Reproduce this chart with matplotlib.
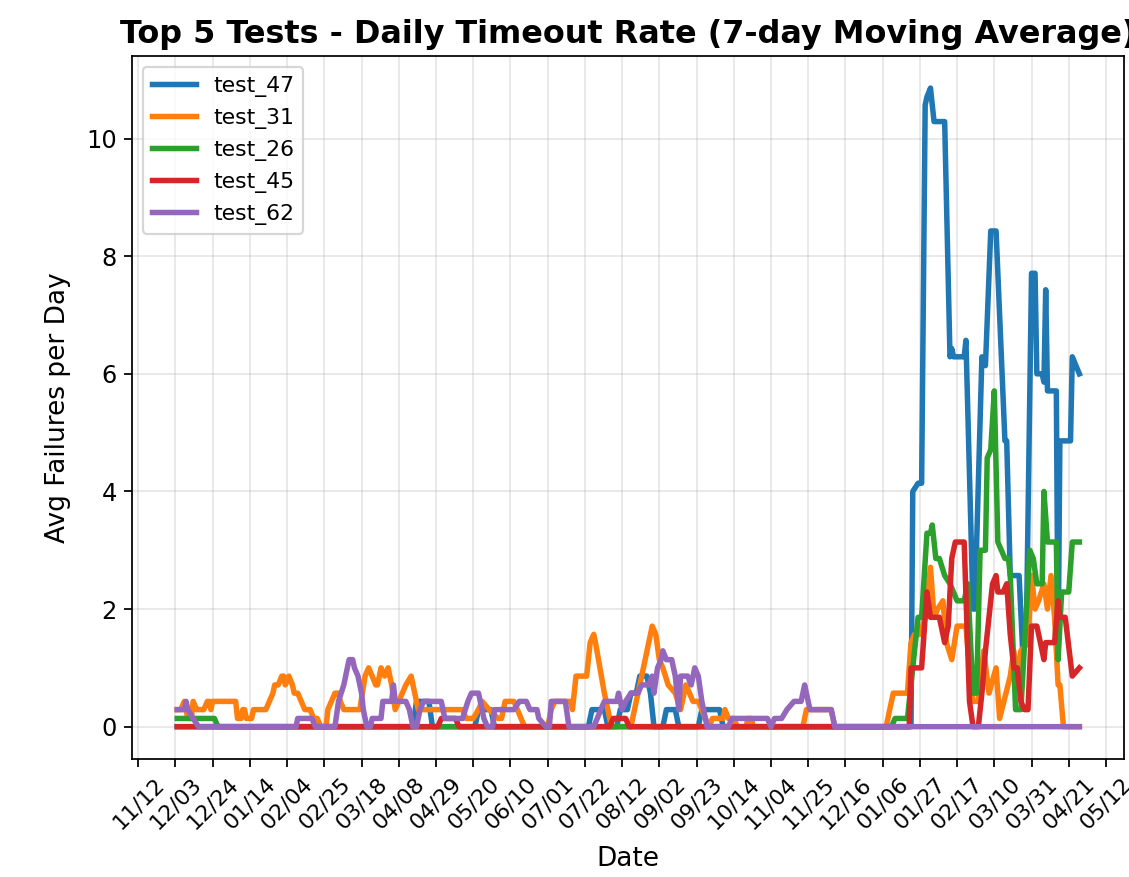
import numpy as np
import pandas as pd
import matplotlib
matplotlib.use('Agg')
import matplotlib.pyplot as plt
import matplotlib.dates as mdates
from matplotlib.ticker import FixedLocator

# day offsets are counted from this date, values are 7-day moving averages
base = pd.Timestamp('2021-11-12')

t47_days = [22, 155, 157, 164, 166, 190, 192, 199, 201, 254, 256, 263, 265, 270, 272, 276, 278, 281,
            283, 287, 289, 291, 296, 298, 303, 305, 316, 318, 328, 330, 436, 437, 440, 442, 444, 445,
            447, 449, 455, 458, 459, 460, 466, 467, 471, 472, 476, 478, 481, 484, 489, 490, 492,
            497, 499, 501, 504, 506, 507, 510, 511, 512, 513, 518, 519, 520, 526, 527, 531]
t47_vals = [0, 0, 0.43, 0.43, 0, 0, 0.29, 0.29, 0, 0, 0.29, 0.29, 0, 0, 0.29, 0.29, 0.57, 0.57,
            0.86, 0.86, 0.57, 0, 0, 0.29, 0.29, 0, 0, 0.29, 0.29, 0, 0, 4.0, 4.14, 4.14, 10.57, 10.71,
            10.86, 10.29, 10.29, 6.29, 6.43, 6.29, 6.29, 6.57, 2.0, 2.0, 6.29, 6.14, 8.43, 8.43, 4.86, 4.86, 2.57,
            2.57, 1.29, 1.43, 7.71, 7.71, 6.0, 6.0, 5.86, 7.43, 5.71, 5.71, 1.14, 4.86, 4.86, 6.29, 6.0]

t31_days = [22, 24, 26, 28, 30, 31, 33, 37, 39, 40, 41, 42, 55, 56, 58, 59, 60, 61, 64, 65, 72, 74,
            76, 77, 79, 81, 82, 83, 85, 87, 88, 90, 92, 94, 97, 99, 101, 103, 106, 107, 109, 111, 113,
            114, 116, 125, 128, 130, 132, 134, 135, 137, 139, 141, 143, 145, 147, 149, 151, 154, 156,
            158, 183, 185, 189, 192, 194, 198, 203, 205, 207, 212, 216, 218, 231, 233, 235, 244, 245,
            247, 253, 255, 257, 258, 263, 266, 267, 278, 280, 283, 286, 290, 292, 294, 296, 299, 303,
            306, 309, 311, 313, 316, 318, 320, 322, 324, 330, 331, 333, 336, 338, 343, 344, 346, 347,
            375, 377, 391, 393, 422, 424, 426, 434, 436, 438, 441, 444, 447, 449, 451, 454, 456, 459,
            462, 467, 469, 471, 474, 477, 480, 484, 486, 492, 494, 496, 498, 502, 504, 506, 508, 511,
            513, 515, 517, 519, 520, 522, 531]
t31_vals = [0.29, 0.29, 0.43, 0.14, 0.14, 0.43, 0.29, 0.29, 0.43, 0.43, 0.29, 0.43, 0.43, 0.14, 0.14, 0.29, 0.29, 0.14, 0.14, 0.29, 0.29, 0.43,
            0.57, 0.71, 0.71, 0.86, 0.86, 0.71, 0.86, 0.71, 0.57, 0.57, 0.43, 0.29, 0.29, 0.14, 0.14, 0, 0, 0.29, 0.43, 0.57, 0.57,
            0.43, 0.29, 0.29, 0.86, 1.0, 0.86, 0.71, 0.71, 1.0, 0.86, 1.0, 0.71, 0.29, 0.43, 0.57, 0.71, 0.86, 0.57,
            0.29, 0.29, 0.14, 0.14, 0.29, 0.43, 0.29, 0.14, 0.14, 0.43, 0.43, 0.14, 0, 0, 0.29, 0.43, 0.43, 0.29,
            0.86, 0.86, 1.43, 1.57, 1.43, 0.57, 0.14, 0, 0, 0.29, 0.71, 1.14, 1.71, 1.57, 1.14, 1.0, 0.71, 0.57,
            0.29, 0.71, 0.57, 0.43, 0.43, 0.29, 0.14, 0, 0.14, 0.14, 0.29, 0.14, 0.14, 0, 0, 0.14, 0.14, 0,
            0, 0.29, 0.29, 0, 0, 0.29, 0.57, 0.57, 1.43, 1.57, 1.57, 1.86, 2.71, 1.86, 2.0, 2.14, 1.43, 1.14,
            1.71, 1.71, 1.0, 0.43, 0.43, 1.29, 0.57, 1.0, 0.14, 0.86, 1.29, 0.86, 1.29, 1.43, 2.57, 2.0, 2.14, 2.43,
            2.0, 2.57, 1.86, 0.71, 0.71, 0, 0]

t26_days = [22, 43, 45, 425, 427, 434, 437, 440, 442, 445, 447, 448, 450, 452, 455, 458, 462, 466,
            468, 471, 473, 475, 478, 479, 481, 483, 485, 489, 491, 492, 495, 498, 503, 505, 507, 510,
            511, 513, 518, 519, 521, 525, 527, 531]
t26_vals = [0.14, 0.14, 0, 0, 0.14, 0.14, 1.0, 1.86, 1.86, 3.29, 3.29, 3.43, 2.86, 2.86, 2.57, 2.43, 2.14, 2.14,
            2.43, 0.57, 0.57, 3.0, 3.0, 4.57, 4.71, 5.71, 3.14, 2.86, 2.86, 2.57, 0.29, 0.29, 3.0, 2.86, 2.43, 2.43,
            4.0, 3.14, 3.14, 1.14, 2.29, 2.29, 3.14, 3.14]

t45_days = [22, 169, 171, 179, 181, 266, 268, 275, 277, 435, 436, 442, 445, 447, 452, 455, 457, 459,
            461, 466, 469, 471, 474, 476, 478, 480, 482, 484, 485, 488, 490, 492, 494, 496, 498, 500,
            502, 504, 507, 509, 511, 512, 517, 519, 520, 523, 527, 531]
t45_vals = [0, 0, 0.14, 0.14, 0, 0, 0.14, 0.14, 0, 0, 1.0, 1.0, 2.29, 1.86, 1.86, 1.43, 1.71, 2.86,
            3.14, 3.14, 0.43, 0, 0, 0.57, 1.29, 1.86, 2.43, 2.57, 2.29, 2.29, 2.43, 1.57, 1.0, 1.0, 0.43, 0.29,
            0.29, 1.71, 1.71, 1.43, 1.14, 1.43, 1.43, 2.14, 1.86, 1.86, 0.86, 1.0]

t62_days = [22, 26, 27, 28, 31, 34, 89, 90, 98, 100, 111, 113, 116, 118, 119, 121, 122, 124, 126,
            127, 129, 131, 132, 137, 138, 143, 144, 145, 151, 153, 155, 157, 159, 161, 171, 173, 183,
            186, 188, 192, 194, 195, 197, 200, 201, 212, 215, 219, 221, 225, 226, 230, 232, 233, 241,
            243, 257, 259, 261, 263, 270, 271, 273, 275, 278, 282, 284, 288, 290, 291, 293, 295, 296,
            298, 301, 303, 305, 306, 310, 312, 314, 316, 318, 321, 333, 335, 355, 357, 359, 363, 366,
            370, 374, 376, 377, 379, 391, 393, 531]
t62_vals = [0.29, 0.29, 0.43, 0.29, 0.14, 0, 0, 0.14, 0.14, 0, 0, 0.43, 0.71, 1.0, 1.14, 1.14, 1.0, 0.86, 0.57,
            0.29, 0, 0, 0.14, 0.14, 0.43, 0.43, 0.71, 0.43, 0.43, 0.29, 0, 0, 0.29, 0.43, 0.43, 0.14, 0.14,
            0.43, 0.57, 0.57, 0.29, 0.14, 0, 0, 0.29, 0.29, 0.43, 0.43, 0.29, 0.29, 0.14, 0, 0, 0.43, 0.43,
            0, 0, 0.14, 0.29, 0.43, 0.43, 0.57, 0.29, 0.43, 0.57, 0.57, 0.71, 0.71, 0.86, 0.57, 1.0, 1.14, 1.29,
            1.14, 1.14, 0.86, 0.29, 0.86, 0.86, 0.71, 1.0, 0.86, 0.43, 0, 0, 0.14, 0.14, 0, 0.14, 0.14, 0.29,
            0.43, 0.43, 0.71, 0.57, 0.29, 0.29, 0, 0]

series = [('test_47', t47_days, t47_vals),
          ('test_31', t31_days, t31_vals),
          ('test_26', t26_days, t26_vals),
          ('test_45', t45_days, t45_vals),
          ('test_62', t62_days, t62_vals)]

tick_dates = pd.date_range('2021-11-12', '2023-05-12', freq='21D')

fig, ax = plt.subplots(figsize=(1129 / 158, 877 / 158), dpi=158)
fig.subplots_adjust(left=0.117, right=0.996, bottom=0.135, top=0.936)

for name, days, vals in series:
    dates = base + pd.to_timedelta(days, unit='D')
    ax.plot(dates, vals, label=name, linewidth=2.5)

ax.set_title('Top 5 Tests - Daily Timeout Rate (7-day Moving Average)', fontsize=14.5, fontweight='bold')
ax.set_xlabel('Date', fontsize=12, labelpad=6)
ax.set_ylabel('Avg Failures per Day', fontsize=12, labelpad=7)
ax.xaxis.set_major_locator(FixedLocator(mdates.date2num(tick_dates)))
ax.xaxis.set_major_formatter(mdates.DateFormatter('%m/%d'))
plt.setp(ax.get_xticklabels(), rotation=45, fontsize=10)
ax.tick_params(axis='y', labelsize=11)
ax.legend(loc='upper left', fontsize=10)
ax.grid(True, alpha=0.3)

fig.savefig('out.png', dpi=158)
